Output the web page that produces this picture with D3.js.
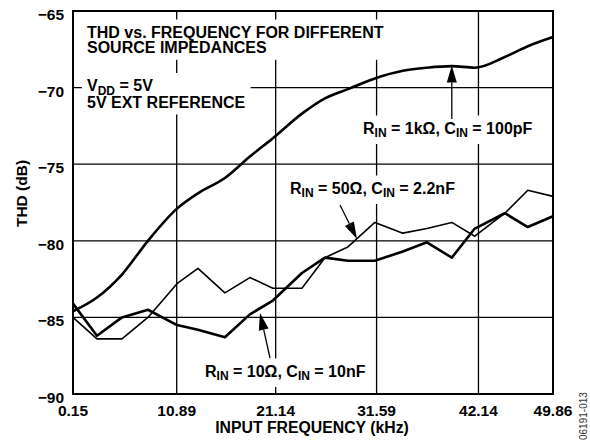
<html>
<head>
<meta charset="utf-8">
<script src="https://d3js.org/d3.v7.min.js"></script>
<style>
body { margin: 0; background: #fff; }
text { font-family: "Liberation Sans", Arial, sans-serif; font-weight: bold; fill: #000; }
</style>
</head>
<body>
<div id="chart"></div>
<script>
// input frequency (kHz) of the measured points
var freq = [0.15, 2.63, 5.22, 7.91, 10.92, 13.09, 15.88, 18.47, 20.85, 23.86,
            26.24, 28.62, 31.41, 34.31, 36.80, 39.38, 41.76, 44.87, 47.25, 49.86];
// THD (dB) for the three source impedances
var thd1k  = [-84.6, -83.7, -82.2, -80.0, -77.9, -76.9, -75.9, -74.5, -73.3, -71.7,
              -70.7, -70.1, -69.4, -68.9, -68.7, -68.6, -68.7, -68.0, -67.3, -66.7];
var thd50  = [-85.0, -86.4, -86.4, -85.0, -82.8, -81.8, -83.4, -82.4, -83.1, -83.1,
              -81.1, -80.4, -78.8, -79.5, -79.2, -78.8, -79.7, -78.2, -76.7, -77.1];
var thd10  = [-84.1, -86.2, -85.0, -84.5, -85.5, -85.8, -86.3, -84.8, -83.9, -82.1,
              -81.1, -81.3, -81.3, -80.7, -80.1, -81.1, -79.2, -78.2, -79.1, -78.4];
var xTicks = [0.15, 10.89, 21.14, 31.59, 42.14, 49.86];
var yTicks = [-65, -70, -75, -80, -85, -90];

var W = 590, H = 442;
var margin = {left: 73, top: 11, right: 37, bottom: 48};
var width = W - margin.left - margin.right;
var height = H - margin.top - margin.bottom;

var xs = d3.scaleLinear().domain([0.15, 49.86]).range([0, width]);
var ys = d3.scaleLinear().domain([-90, -65]).range([height, 0]);

var root = d3.select("#chart").append("svg")
    .attr("width", W).attr("height", H);
var svg = root.append("g")
    .attr("transform", "translate(" + margin.left + "," + margin.top + ")");

// grid
svg.selectAll(".vg").data(xTicks.slice(1, -1)).enter().append("line")
    .attr("x1", function(d) { return xs(d); }).attr("x2", function(d) { return xs(d); })
    .attr("y1", 0).attr("y2", height)
    .attr("stroke", "#000").attr("stroke-width", 1.3);
svg.selectAll(".hg").data(yTicks.slice(1, -1)).enter().append("line")
    .attr("y1", function(d) { return ys(d); }).attr("y2", function(d) { return ys(d); })
    .attr("x1", 0).attr("x2", width)
    .attr("stroke", "#000").attr("stroke-width", 1.3);

// tick labels
svg.selectAll(".xt").data(xTicks).enter().append("text")
    .attr("x", function(d) { return xs(d); })
    .attr("y", height + 22)
    .attr("text-anchor", "middle")
    .style("font-size", "15.5px")
    .text(function(d) { return d.toFixed(2); });
svg.selectAll(".yt").data(yTicks).enter().append("text")
    .attr("x", -9)
    .attr("y", function(d) { return ys(d) + 9; })
    .attr("text-anchor", "end")
    .style("font-size", "15.5px")
    .text(function(d) { return "\u2212" + Math.abs(d); });

// axis titles
svg.append("text")
    .attr("x", width / 2 - 1).attr("y", height + 39)
    .attr("text-anchor", "middle").style("font-size", "15.8px")
    .text("INPUT FREQUENCY (kHz)");
svg.append("text")
    .attr("transform", "translate(-46," + (height / 2 - 9) + ")rotate(-90)")
    .attr("text-anchor", "middle").style("font-size", "15.5px")
    .text("THD (dB)");

// labels with white boxes that break the grid
var labels = svg.append("g");
function boxed(lines, x, y0, lh) {
    var g = labels.append("g");
    var rect = g.append("rect").attr("fill", "#fff");
    lines.forEach(function(parts, i) {
        var t = g.append("text").attr("x", x).attr("y", y0 + i * lh).style("font-size", "16px");
        parts.forEach(function(p) {
            var s = t.append("tspan").text(p.t);
            if (p.sub) s.style("font-size", "12px").attr("dy", 3.5);
            else if (p.after) s.attr("dy", -3.5);
        });
    });
    var b = g.node().getBBox();
    rect.attr("x", b.x - 5).attr("y", b.y - 4).attr("width", b.width + 10).attr("height", b.height + 8);
}
boxed([[{t: "THD vs. FREQUENCY FOR DIFFERENT"}], [{t: "SOURCE IMPEDANCES"}]], 14, 26.5, 15.3);
boxed([[{t: "V"}, {t: "DD", sub: true}, {t: " = 5V", after: true}], [{t: "5V EXT REFERENCE"}]], 14, 80, 16.5);
boxed([[{t: "R"}, {t: "IN", sub: true}, {t: " = 1k\u03a9, C", after: true}, {t: "IN", sub: true}, {t: " = 100pF", after: true}]], 290, 122.5, 0);
boxed([[{t: "R"}, {t: "IN", sub: true}, {t: " = 50\u03a9, C", after: true}, {t: "IN", sub: true}, {t: " = 2.2nF", after: true}]], 217, 182.5, 0);
boxed([[{t: "R"}, {t: "IN", sub: true}, {t: " = 10\u03a9, C", after: true}, {t: "IN", sub: true}, {t: " = 10nF", after: true}]], 132, 365.5, 0);

// data lines
var line = d3.line()
    .x(function(d, i) { return xs(freq[i]); })
    .y(function(d) { return ys(d); });
svg.append("path").datum(thd50).attr("d", line)
    .attr("fill", "none").attr("stroke", "#000").attr("stroke-width", 1.6).attr("stroke-linejoin", "round");
svg.append("path").datum(thd10).attr("d", line)
    .attr("fill", "none").attr("stroke", "#000").attr("stroke-width", 2.6).attr("stroke-linejoin", "round");
svg.append("path").datum(thd1k).attr("d", line.curve(d3.curveMonotoneX))
    .attr("fill", "none").attr("stroke", "#000").attr("stroke-width", 2.6);

// arrows pointing from labels to curves
function arrow(x1, y1, x2, y2) {
    var a = Math.atan2(y2 - y1, x2 - x1), L = 17, w = 5;
    var bx = x2 - L * Math.cos(a), by = y2 - L * Math.sin(a);
    svg.append("line").attr("x1", x1).attr("y1", y1).attr("x2", bx).attr("y2", by)
        .attr("stroke", "#000").attr("stroke-width", 1.3);
    svg.append("path")
        .attr("d", "M" + x2 + "," + y2 +
            "L" + (bx + w * Math.sin(a)) + "," + (by - w * Math.cos(a)) +
            "L" + (bx - w * Math.sin(a)) + "," + (by + w * Math.cos(a)) + "Z")
        .attr("fill", "#000");
}
arrow(xs(39.38), 108, xs(39.38), ys(-68.55));
arrow(267, 194, 284, 228);
arrow(197, 347, 187, 302);

// frame
svg.append("rect").attr("width", width).attr("height", height)
    .attr("fill", "none").attr("stroke", "#000").attr("stroke-width", 2);

// figure number
root.append("text")
    .attr("transform", "translate(587,440)rotate(-90)")
    .style("font-size", "10px").style("font-weight", "normal").style("fill", "#333")
    .text("06191-013");
</script>
</body>
</html>
